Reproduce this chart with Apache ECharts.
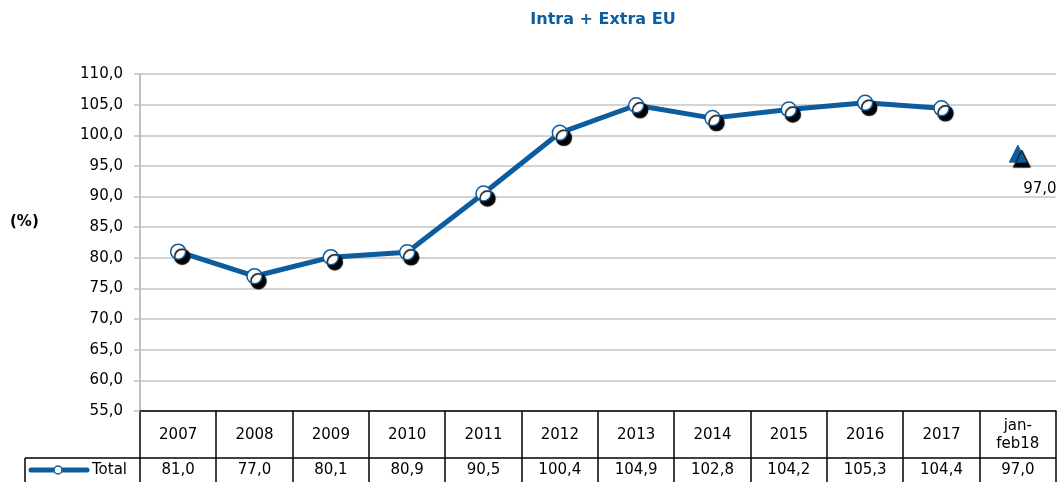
<!DOCTYPE html>
<html>
<head>
<meta charset="utf-8">
<script src="https://cdn.jsdelivr.net/npm/echarts@6/dist/echarts.min.js"></script>
<style>
	html, body { margin: 0; padding: 0; background: #fff; }
	#chart { width: 1064px; height: 482px; }
</style>
</head>
<body>
<div id="chart"></div>
<script>
// data
const categories = [ '2007', '2008', '2009', '2010', '2011', '2012', '2013', '2014', '2015', '2016', '2017', 'jan-\nfeb18' ];
const totalValues = [ 81.0, 77.0, 80.1, 80.9, 90.5, 100.4, 104.9, 102.8, 104.2, 105.3, 104.4, null ];
const partialValues = [ null, null, null, null, null, null, null, null, null, null, null, 97.0 ];
const tableValues = [ 81.0, 77.0, 80.1, 80.9, 90.5, 100.4, 104.9, 102.8, 104.2, 105.3, 104.4, 97.0 ];
const yTicks = { min: 55, max: 110, interval: 5 };

const blue = '#0d5c9e';
const font = '"DejaVu Sans", Verdana, sans-serif';
const grid = { left: 140, right: 8, top: 74, bottom: 71 };

const fmt = ( v ) => v.toFixed( 1 ).replace( '.', ',' );

const chart = echarts.init( document.getElementById( 'chart' ) );

const shadow = {
	shadowColor: '#000',
	shadowBlur: 1,
	shadowOffsetX: 4,
	shadowOffsetY: 5
};

chart.setOption( {
	animation: false,
	title: {
		text: 'Intra + Extra EU',
		left: 598,
		top: 7,
		textAlign: 'center',
		textStyle: { color: blue, fontSize: 16, fontWeight: 'bold', fontFamily: font }
	},
	grid: grid,
	xAxis: {
		type: 'category',
		data: categories,
		boundaryGap: true,
		axisLabel: { show: false },
		axisTick: { show: false },
		axisLine: { lineStyle: { color: '#000', width: 1.5 } },
		splitLine: { show: false }
	},
	yAxis: {
		type: 'value',
		min: yTicks.min,
		max: yTicks.max,
		interval: yTicks.interval,
		axisLabel: {
			formatter: fmt,
			color: '#000',
			fontSize: 15,
			fontFamily: font,
			margin: 17
		},
		axisLine: { show: true, lineStyle: { color: '#bfbfbf', width: 2 } },
		axisTick: { show: true, length: 6, lineStyle: { color: '#bfbfbf', width: 1.5 } },
		splitLine: { lineStyle: { color: '#c4c4c4', width: 1.5 } }
	},
	series: [
		{
			name: 'Total',
			type: 'line',
			data: totalValues,
			symbol: 'circle',
			symbolSize: 15,
			lineStyle: { color: blue, width: 5 },
			itemStyle: Object.assign( { color: '#fff', borderColor: blue, borderWidth: 1.5 }, shadow ),
			z: 3
		},
		{
			name: 'jan-feb',
			type: 'line',
			data: partialValues,
			symbol: 'triangle',
			symbolSize: 17,
			itemStyle: Object.assign( { color: blue, borderColor: blue }, shadow ),
			label: {
				show: true,
				position: 'bottom',
				offset: [ 22, 14 ],
				formatter: ( p ) => fmt( p.value ),
				color: '#000',
				fontSize: 15,
				fontFamily: font
			},
			z: 3
		}
	]
} );

// data table under the plot, placed from the axis positions
function buildTable() {
	const centers = categories.map( ( c, i ) => chart.convertToPixel( { xAxisIndex: 0 }, i ) );
	const step = centers[ 1 ] - centers[ 0 ];
	const top = chart.getHeight() - grid.bottom;
	const mid = top + 47;
	const bottom = chart.getHeight() + 2;
	const legendLeft = 25;
	const right = centers[ centers.length - 1 ] + step / 2;
	const lineStyle = { stroke: '#000', lineWidth: 1.5 };
	const elements = [];

	// vertical borders
	for ( let i = 0; i <= centers.length; i++ ) {
		const x = Math.round( centers[ 0 ] - step / 2 + i * step );
		elements.push( {
			type: 'line',
			shape: { x1: x, y1: top, x2: x, y2: bottom },
			style: lineStyle
		} );
	}
	elements.push( {
		type: 'line',
		shape: { x1: legendLeft, y1: mid, x2: legendLeft, y2: bottom },
		style: lineStyle
	} );
	elements.push( {
		type: 'line',
		shape: { x1: legendLeft, y1: mid, x2: right, y2: mid },
		style: lineStyle
	} );

	// header and value cells
	categories.forEach( ( c, i ) => {
		elements.push( {
			type: 'text',
			style: {
				text: c,
				x: centers[ i ],
				y: ( top + mid ) / 2 + 1,
				align: 'center',
				verticalAlign: 'middle',
				fill: '#000',
				fontSize: 15,
				fontFamily: font,
				lineHeight: 18
			}
		} );
		elements.push( {
			type: 'text',
			style: {
				text: fmt( tableValues[ i ] ),
				x: centers[ i ],
				y: mid + 12,
				align: 'center',
				verticalAlign: 'middle',
				fill: '#000',
				fontSize: 15,
				fontFamily: font
			}
		} );
	} );

	// legend key
	elements.push( {
		type: 'line',
		shape: { x1: 31, y1: mid + 12, x2: 87, y2: mid + 12 },
		style: { stroke: blue, lineWidth: 5, lineCap: 'round' }
	} );
	elements.push( {
		type: 'circle',
		shape: { cx: 58, cy: mid + 12, r: 4 },
		style: { fill: '#fff', stroke: blue, lineWidth: 1.5 }
	} );
	elements.push( {
		type: 'text',
		style: {
			text: 'Total',
			x: 92,
			y: mid + 12,
			verticalAlign: 'middle',
			fill: '#000',
			fontSize: 15,
			fontFamily: font
		}
	} );

	// axis unit
	elements.push( {
		type: 'text',
		style: {
			text: '(%)',
			x: 10,
			y: 222,
			verticalAlign: 'middle',
			fill: '#000',
			fontSize: 15,
			fontWeight: 'bold',
			fontFamily: font
		}
	} );

	chart.setOption( { graphic: elements } );
}

buildTable();
</script>
</body>
</html>
